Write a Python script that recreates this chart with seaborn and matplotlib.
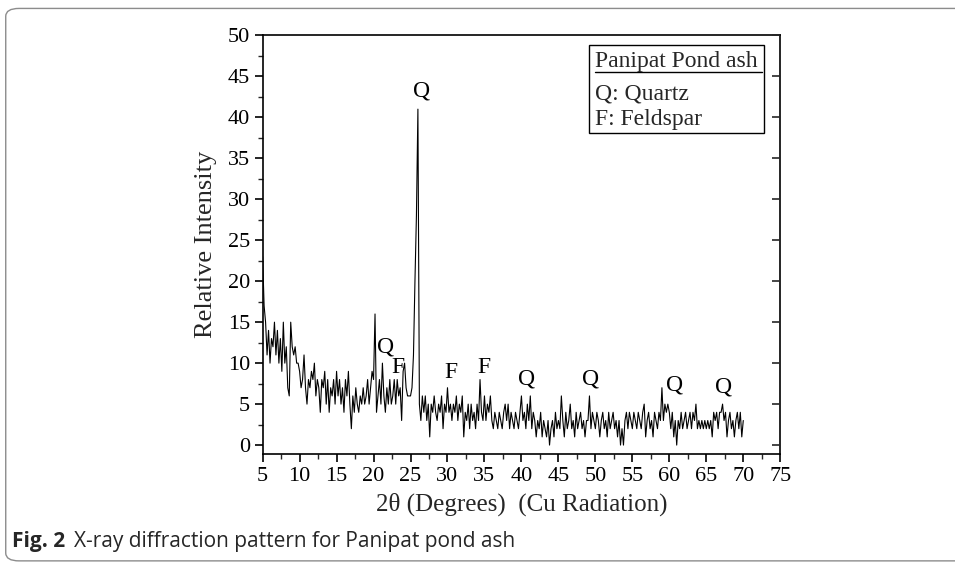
import numpy as np
import pandas as pd
import matplotlib
matplotlib.use("Agg")
import matplotlib.pyplot as plt
import seaborn as sns
from matplotlib.patches import FancyBboxPatch, Rectangle
from matplotlib.lines import Line2D

# ---- data ----
two_theta_start = 5.0
two_theta_step = 0.2
intensity = [
    23, 17, 15, 11, 14, 10, 13, 12, 15, 11,   # 5.0 - 6.8
    14, 10, 13, 9, 15, 10, 12, 7, 6, 15,      # 7.0 - 8.8
    12, 11, 12, 10, 10, 9, 7, 8, 11, 7,       # 9.0 - 10.8
    5, 8, 7, 9, 8, 10, 6, 8, 7, 4,            # 11.0 - 12.8
    8, 7, 9, 5, 8, 4, 7, 6, 8, 5,             # 13.0 - 14.8
    9, 6, 8, 5, 7, 4, 8, 6, 9, 5,             # 15.0 - 16.8
    2, 6, 4, 7, 5, 4, 6, 5, 7, 5,             # 17.0 - 18.8
    6, 8, 5, 7, 9, 8, 16, 4, 6, 8,            # 19.0 - 20.8
    5, 10, 6, 4, 7, 5, 8, 5, 6, 8,            # 21.0 - 22.8
    5, 8, 6, 7, 3, 9, 10, 7, 6, 6,            # 23.0 - 24.8
    6, 7, 11, 20, 28, 41, 5, 3, 6, 4,         # 25.0 - 26.8
    6, 3, 5, 1, 5, 4, 6, 4, 3, 5,             # 27.0 - 28.8
    4, 6, 2, 5, 4, 7, 4, 5, 3, 5,             # 29.0 - 30.8
    4, 6, 3, 5, 4, 6, 1, 4, 3, 5,             # 31.0 - 32.8
    2, 5, 3, 4, 2, 5, 3, 8, 4, 3,             # 33.0 - 34.8
    6, 3, 5, 4, 6, 3, 2, 4, 3, 2,             # 35.0 - 36.8
    4, 3, 2, 4, 5, 3, 5, 2, 4, 3,             # 37.0 - 38.8
    2, 4, 3, 2, 4, 6, 3, 4, 2, 5,             # 39.0 - 40.8
    3, 6, 2, 4, 3, 1, 3, 2, 4, 1,             # 41.0 - 42.8
    3, 2, 1, 3, 0, 2, 3, 1, 4, 2,             # 43.0 - 44.8
    3, 2, 6, 3, 1, 4, 2, 3, 5, 2,             # 45.0 - 46.8
    3, 1, 4, 2, 3, 4, 2, 3, 1, 3,             # 47.0 - 48.8
    3, 6, 2, 4, 3, 2, 4, 3, 1, 3,             # 49.0 - 50.8
    4, 2, 3, 1, 4, 2, 3, 4, 2, 3,             # 51.0 - 52.8
    1, 3, 0, 2, 0, 3, 4, 2, 4, 3,             # 53.0 - 54.8
    2, 4, 3, 2, 4, 3, 2, 4, 5, 1,             # 55.0 - 56.8
    3, 4, 2, 3, 1, 4, 3, 2, 4, 3,             # 57.0 - 58.8
    7, 3, 5, 4, 5, 4, 2, 4, 1, 3,             # 59.0 - 60.8
    0, 3, 2, 4, 2, 3, 4, 2, 3, 4,             # 61.0 - 62.8
    2, 4, 3, 5, 2, 3, 2, 3, 2, 3,             # 63.0 - 64.8
    2, 3, 2, 3, 1, 4, 3, 4, 2, 4,             # 65.0 - 66.8
    4, 5, 3, 4, 1, 3, 4, 2, 3, 1,             # 67.0 - 68.8
    3, 4, 2, 4, 1, 3,                         # 69.0 - 70.0
]
two_theta = [round(two_theta_start + i * two_theta_step, 2) for i in range(len(intensity))]

peak_labels = ["Q", "Q", "F", "F", "F", "Q", "Q", "Q", "Q"]
peak_label_x = [26.5, 21.6, 23.3, 30.4, 34.9, 40.7, 49.4, 60.7, 67.3]
peak_label_y = [43.2, 12.0, 9.5, 8.9, 9.5, 8.1, 8.1, 7.3, 7.1]

legend_title = "Panipat Pond ash"
legend_lines = ["Q: Quartz", "F: Feldspar"]

x_ticks = [5, 10, 15, 20, 25, 30, 35, 40, 45, 50, 55, 60, 65, 70, 75]
y_ticks = [0, 5, 10, 15, 20, 25, 30, 35, 40, 45, 50]

df = pd.DataFrame({"two_theta": two_theta, "intensity": intensity})

# ---- style ----
sns.set_style("ticks")
plt.rcParams["font.family"] = ["Liberation Serif", "DejaVu Serif"]

fig = plt.figure(figsize=(9.55, 5.62), dpi=100)
ax = fig.add_axes([0.275, 0.192, 0.542, 0.745])

sns.lineplot(data=df, x="two_theta", y="intensity", ax=ax,
             color="black", linewidth=0.8, estimator=None, sort=False)

ax.set_xlim(5, 75)
ax.set_ylim(-1.1, 50)
ax.set_xticks(x_ticks)
ax.set_yticks(y_ticks)
ax.set_xticks(np.arange(7.5, 75, 5), minor=True)
ax.set_yticks(np.arange(2.5, 50, 5), minor=True)
ax.tick_params(axis="both", which="major", direction="out", length=6,
               width=1.2, labelsize=16, pad=3, colors="black")
ax.tick_params(axis="both", which="minor", direction="out", length=3.5,
               width=1.0)
for s in ax.spines.values():
    s.set_linewidth(1.2)
    s.set_color("black")

# right-side major ticks pointing inward, no labels
axr = ax.twinx()
axr.set_ylim(ax.get_ylim())
axr.set_yticks(y_ticks)
axr.set_yticks([], minor=True)
axr.tick_params(axis="y", which="major", direction="in", length=6, width=1.2,
                labelright=False)
for s in axr.spines.values():
    s.set_visible(False)

ax.set_xlabel("2\u03b8 (Degrees)  (Cu Radiation)", fontsize=18, labelpad=5)
ax.set_ylabel("Relative Intensity", fontsize=19, labelpad=8)

for lab, lx, ly in zip(peak_labels, peak_label_x, peak_label_y):
    ax.text(lx, ly, lab, fontsize=17, ha="center", va="center", color="black")

# legend box (drawn in axes fraction)
box = Rectangle((0.631, 0.768), 0.338, 0.21, transform=ax.transAxes,
                fill=False, edgecolor="black", linewidth=1.0, zorder=5)
ax.add_patch(box)
ax.text(0.643, 0.925, legend_title, transform=ax.transAxes, fontsize=17,
        ha="left", va="baseline")
ax.add_line(Line2D([0.643, 0.964], [0.913, 0.913], transform=ax.transAxes,
                   color="black", linewidth=1.0))
ax.text(0.643, 0.860, legend_lines[0], transform=ax.transAxes, fontsize=17,
        ha="left", va="center")
ax.text(0.643, 0.800, legend_lines[1], transform=ax.transAxes, fontsize=17,
        ha="left", va="center")

# outer rounded frame and caption
frame = FancyBboxPatch((0.006, 0.002), 1.2, 0.983,
                       boxstyle="round,pad=0,rounding_size=0.014",
                       transform=fig.transFigure, fill=False,
                       edgecolor="#8c8c8c", linewidth=1.0)
fig.patches.append(frame)
t1 = fig.text(0.013, 0.027, "Fig. 2", fontsize=15, fontweight="bold",
              family=["Open Sans", "DejaVu Sans"], ha="left", va="baseline")
fig.canvas.draw()
bb = t1.get_window_extent(renderer=fig.canvas.get_renderer())
x_next = bb.x1 / fig.bbox.width + 0.009
fig.text(x_next, 0.027, "X-ray diffraction pattern for Panipat pond ash",
         fontsize=15, family=["Open Sans", "DejaVu Sans"], ha="left",
         va="baseline")

fig.savefig("out.png", dpi=100)
